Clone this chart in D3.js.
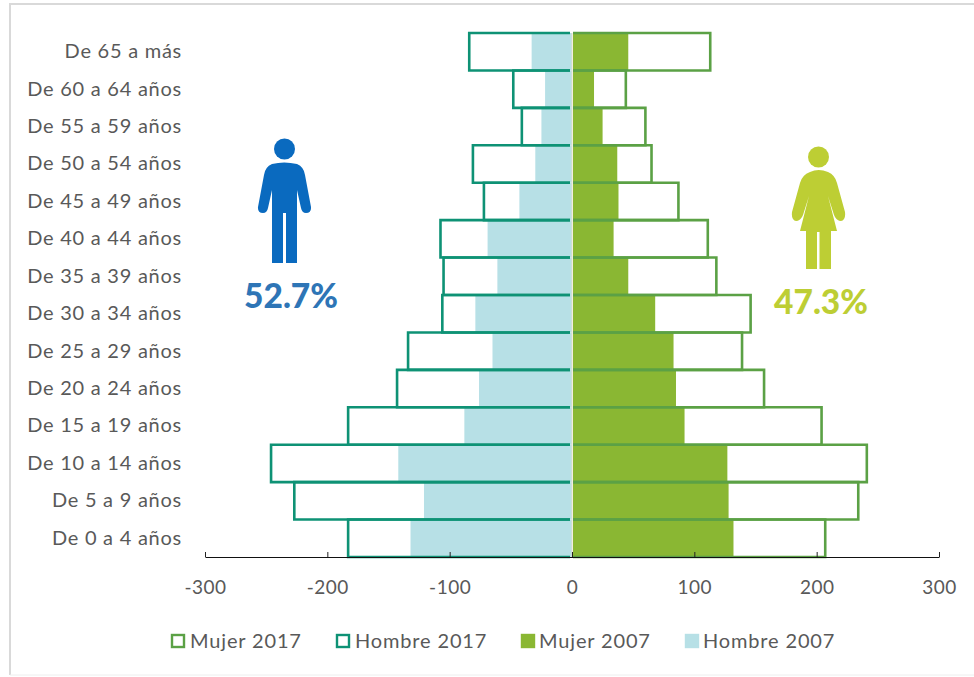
<!DOCTYPE html>
<html><head><meta charset="utf-8">
<script src="https://cdn.jsdelivr.net/npm/d3@7/dist/d3.min.js"></script>
<style>html,body{margin:0;padding:0;background:#fff}svg{display:block}text{font-family:Lato,"Open Sans",sans-serif}</style>
</head><body><svg id="c" width="974" height="677"></svg>
<script>
const ageGroups=["De 65 a más","De 60 a 64 años","De 55 a 59 años","De 50 a 54 años","De 45 a 49 años","De 40 a 44 años","De 35 a 39 años","De 30 a 34 años","De 25 a 29 años","De 20 a 24 años","De 15 a 19 años","De 10 a 14 años","De 5 a 9 años","De 0 a 4 años"];
const hombre2017=[-84,-48,-41,-81,-72,-107.5,-105,-106,-134,-143,-183,-246,-227,-183];
const mujer2017=[113,44,60,65,87,111,118,146,139,157,204,241,234,207];
const hombre2007=[-33,-22,-25,-30,-43,-69,-61,-79,-65,-76,-88,-142,-121,-132];
const mujer2007=[46,18,25,37,38,34,46,68,83,85,92,127,128,132];
const xTicks=[-300,-200,-100,0,100,200,300];
const legendItems=[["Mujer 2017","#5BA145",false,171],["Hombre 2017","#0E9275",false,336],["Mujer 2007","#8AB733",true,521],["Hombre 2007","#B7E0E6",true,685]];

const svg=d3.select("#c");
const x=d3.scaleLinear().domain([-300,300]).range([205,939]);
const y=d3.scaleBand().domain(ageGroups).range([33,557]);
const C={m17:"#0E9275",f17:"#5BA145",m07:"#B7E0E6",f07:"#8AB733",txt:"#595959"};

// frame
svg.append("path").attr("d","M10,675V4H974").attr("fill","none").attr("stroke","#d9d9d9").attr("stroke-width",2);
svg.append("path").attr("d","M10,675H974").attr("fill","none").attr("stroke","#eeeeee").attr("stroke-width",1);

// 2007 filled bars
const rows=ageGroups.map((g,i)=>({g,m17:hombre2017[i],f17:mujer2017[i],m07:hombre2007[i],f07:mujer2007[i]}));
svg.append("g").selectAll("rect").data(rows).join("rect")
  .attr("x",d=>x(d.m07)).attr("y",d=>y(d.g)).attr("width",d=>x(0)-x(d.m07)).attr("height",y.bandwidth()).attr("fill",C.m07);
svg.append("g").selectAll("rect").data(rows).join("rect")
  .attr("x",x(0)+1).attr("y",d=>y(d.g)).attr("width",d=>x(d.f07)-x(0)-1).attr("height",y.bandwidth()).attr("fill",C.f07);
svg.append("line").attr("x1",x(0)).attr("x2",x(0)).attr("y1",y.range()[0]).attr("y2",y.range()[1]).attr("stroke","#e3dcc4").attr("stroke-width",1);

// 2017 outlines, open on the centre side
function outline(val,gap,color){
  svg.append("g").selectAll("path").data(rows).join("path")
    .attr("d",d=>{const p=d3.path(),x0=x(0)+gap,t=y(d.g),b=t+y.bandwidth();
      p.moveTo(x0,t);p.lineTo(x(val(d)),t);p.lineTo(x(val(d)),b);p.lineTo(x0,b);return p.toString();})
    .attr("fill","none").attr("stroke",color).attr("stroke-width",2.6);
}
outline(d=>d.m17,-2,C.m17);
outline(d=>d.f17,1,C.f17);

// x axis
const ax=svg.append("g").attr("transform","translate(0,557)")
  .call(d3.axisBottom(x).tickValues(xTicks).tickFormat(d=>String(d)).tickSizeInner(-5).tickSizeOuter(0).tickPadding(24));
ax.select(".domain").attr("stroke","#111").attr("stroke-width",1.2);
ax.selectAll(".tick line").attr("stroke","#222");
ax.selectAll("text").attr("fill",C.txt).style("font-size","19px").style("font-family","Lato,sans-serif").style("letter-spacing","0.5px");

// category labels
const ay=svg.append("g").attr("transform","translate(182,0)").call(d3.axisLeft(y).tickSize(0).tickPadding(0));
ay.select(".domain").remove();
ay.selectAll("text").attr("fill",C.txt).style("font-size","20px").style("letter-spacing","0.75px").style("font-family","Lato,sans-serif");

// legend
const lg=svg.append("g").selectAll("g").data(legendItems).join("g").attr("transform",d=>`translate(${d[3]},634)`);
lg.append("rect").attr("x",1).attr("y",1).attr("width",12).attr("height",12)
  .attr("fill",d=>d[2]?d[1]:"none").attr("stroke",d=>d[1]).attr("stroke-width",2.4);
lg.append("text").attr("x",d=>d[2]?18:19).attr("y",14).attr("fill",C.txt).style("font-size","20px").style("letter-spacing","0.85px").text(d=>d[0]);

// man icon
const man=svg.append("g").attr("fill","#0A6ABF");
man.append("circle").attr("cx",284.5).attr("cy",149).attr("r",10.5);
man.append("path").attr("d","M272,164Q284,161 297,164Q304,167 305,175L311,207Q311.5,213 306,213Q302,213 301,208L297,190V263H286V213H283V263H272V190L268,208Q267,213 263,213Q257.5,213 258,207L264,175Q265,167 272,164Z");
// woman icon
const wom=svg.append("g").attr("fill","#BDCE34");
wom.append("circle").attr("cx",818.5).attr("cy",157).attr("r",10.5);
wom.append("path").attr("d","M810,172Q818.5,168 828,172Q835,175 837,183L845,212Q846,221 840,221Q836,220 834,215L828,196L837,231H831V269H819.5V232H817V269H806V231H800L809,196L803,215Q801,220 797,221Q791,221 792,212L800,183Q802,175 810,172Z");

// percentages
svg.append("text").attr("x",291).attr("y",308).attr("text-anchor","middle").attr("fill","#2E75B6").style("font-size","33.5px").style("font-weight",900).text("52.7%");
svg.append("text").attr("x",821).attr("y",314).attr("text-anchor","middle").attr("fill","#BDCE34").style("font-size","33.5px").style("font-weight",900).text("47.3%");
</script></body></html>
